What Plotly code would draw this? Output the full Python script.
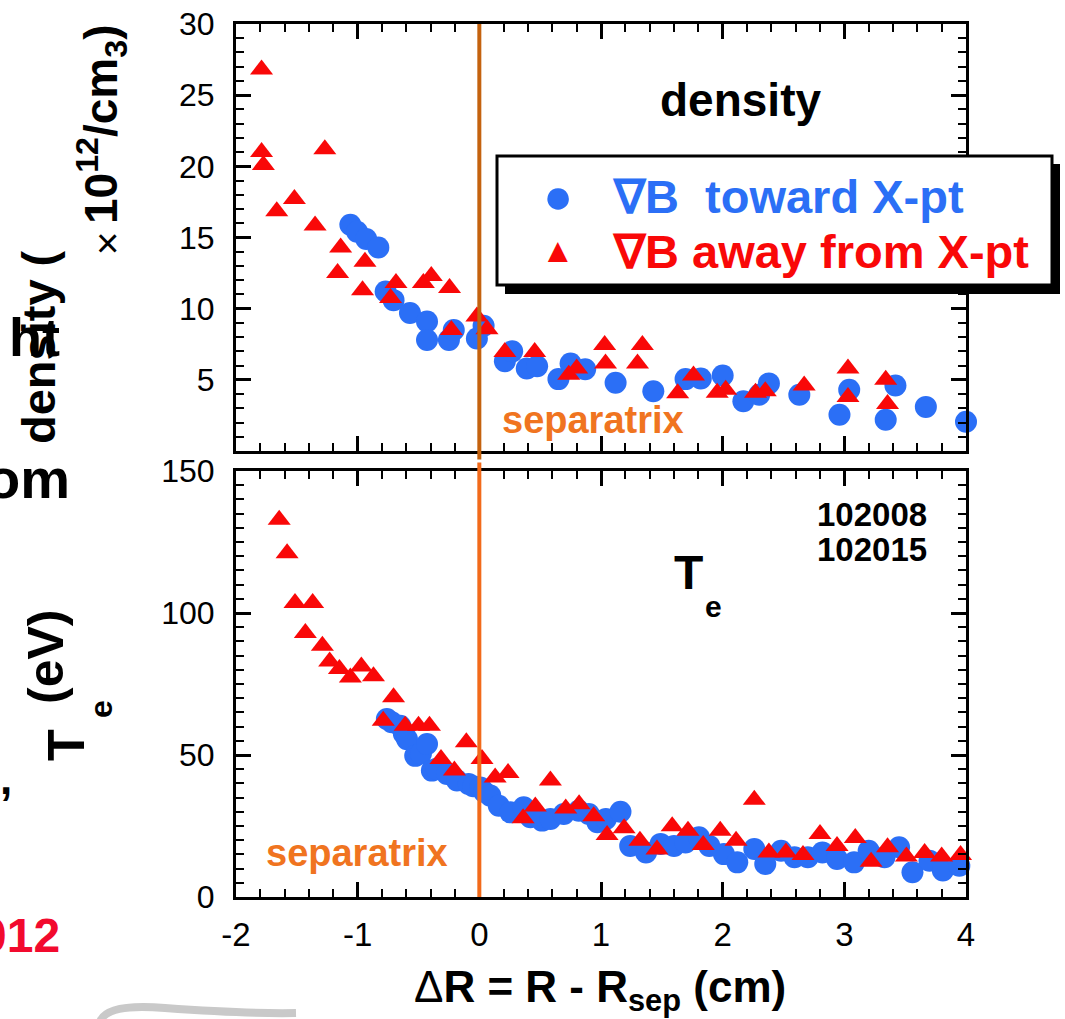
import plotly.graph_objects as go

# ---------------- data ----------------
# Upstream density (1e12 / cm^3) vs. distance from separatrix (cm)
dens_toward_x = [-1.06, -1.005, -0.93, -0.83, -0.77, -0.705, -0.57, -0.43, -0.43, -0.25,
                 -0.21, -0.02, 0.035, 0.21, 0.27, 0.39, 0.475, 0.65, 0.75, 0.87,
                 1.12, 1.43, 1.695, 1.82, 2.0, 2.17, 2.30, 2.38, 2.63, 2.96,
                 3.04, 3.34, 3.42, 3.67, 4.0]
dens_toward_y = [15.9, 15.4, 14.9, 14.3, 11.2, 10.6, 9.7, 9.1, 7.8, 7.8,
                 8.5, 7.9, 8.8, 6.3, 7.0, 5.8, 5.95, 5.05, 6.15, 5.75,
                 4.8, 4.2, 5.05, 5.1, 5.3, 3.5, 3.95, 4.75, 3.95, 2.55,
                 4.3, 2.2, 4.6, 3.1, 2.05]

dens_away_x = [-1.79, -1.79, -1.775, -1.665, -1.52, -1.35, -1.27, -1.165, -1.14, -0.96,
               -0.94, -0.73, -0.685, -0.46, -0.395, -0.245, -0.23, -0.02, 0.063, 0.21,
               0.455, 0.735, 0.80, 1.03, 1.037, 1.30, 1.34, 1.63, 1.76, 1.955,
               2.025, 2.27, 2.35, 2.67, 3.03, 3.03, 3.34, 3.355]
dens_away_y = [26.8, 21.0, 20.1, 16.85, 17.7, 15.85, 21.2, 12.5, 14.3, 11.3,
               13.3, 10.75, 11.8, 11.8, 12.3, 11.45, 8.5, 9.45, 8.55, 6.95,
               6.95, 5.35, 5.8, 7.45, 6.15, 6.15, 7.45, 4.05, 5.3, 4.1,
               4.3, 4.1, 4.2, 4.6, 5.8, 3.8, 5.0, 3.3]

# Electron temperature (eV)
te_toward_x = [-0.76, -0.72, -0.65, -0.62, -0.595, -0.527, -0.48, -0.43, -0.39, -0.35,
               -0.266, -0.184, -0.088, -0.05, 0.008, 0.04, 0.09, 0.16, 0.255, 0.365,
               0.42, 0.516, 0.584, 0.694, 0.817, 0.90, 0.97, 1.04, 1.16, 1.24,
               1.37, 1.49, 1.60, 1.695, 1.805, 1.89, 2.01, 2.12, 2.26, 2.35,
               2.48, 2.59, 2.70, 2.82, 2.94, 3.08, 3.20, 3.33, 3.45, 3.56,
               3.70, 3.81, 3.945]
te_toward_y = [62.7, 61.5, 60.3, 57.5, 55.6, 49.7, 50.5, 53.9, 44.5, 45.2,
               43.3, 41.0, 39.8, 39.0, 38.6, 37.0, 35.7, 32.1, 29.8, 31.6,
               28.1, 26.9, 27.5, 29.2, 30.4, 29.2, 26.3, 27.5, 30.0, 18.0,
               15.7, 18.7, 18.0, 19.2, 21.0, 18.0, 15.1, 12.2, 16.9, 11.6,
               16.3, 14.0, 14.0, 15.7, 13.4, 12.2, 16.3, 14.0, 17.5, 8.7,
               12.8, 9.3, 11.0]

te_away_x = [-1.645, -1.58, -1.515, -1.43, -1.37, -1.29, -1.23, -1.15, -1.06, -0.97,
             -0.87, -0.79, -0.705, -0.61, -0.50, -0.41, -0.315, -0.205, -0.107, 0.022,
             0.13, 0.236, 0.36, 0.46, 0.584, 0.71, 0.82, 0.94, 1.05, 1.19,
             1.32, 1.46, 1.585, 1.715, 1.84, 1.98, 2.11, 2.26, 2.38, 2.52,
             2.66, 2.80, 2.94, 3.09, 3.22, 3.355, 3.51, 3.66, 3.80, 3.955]
te_away_y = [132.8, 121.0, 103.5, 93.0, 103.5, 88.5, 82.9, 80.3, 77.3, 81.2,
             77.7, 62.1, 70.3, 60.3, 60.3, 60.3, 48.6, 44.5, 54.5, 48.6,
             42.1, 43.7, 27.7, 31.9, 41.0, 31.2, 32.7, 28.4, 21.8, 24.2,
             19.8, 16.7, 24.9, 23.3, 18.3, 23.3, 19.8, 34.2, 15.7, 15.7,
             14.8, 22.2, 18.0, 20.8, 12.4, 17.5, 14.3, 15.5, 14.3, 14.8]

separatrix_x = 0.0
x_ticks = [-2, -1, 0, 1, 2, 3, 4]
x_ticktext = ["-2", "-1", "0", "1", "2", "3", "4"]
dens_ticks = [0, 5, 10, 15, 20, 25, 30]
dens_ticktext = ["", "5", "10", "15", "20", "25", "30"]
te_ticks = [0, 50, 100, 150]
te_ticktext = ["0", "50", "100", "150"]

# ---------------- style ----------------
W, H = 1065, 1019
FONT = "Liberation Sans, Arial, Helvetica, sans-serif"
BLUE = "#2b6ff6"
RED = "#f90808"
ORANGE = "#f07420"
SEP_TOP = "#c4620e"
SEP_BOT = "#f26a1a"


def px(x):
    return x / W


def py(y):
    return 1 - y / H


fig = go.Figure()

for xs, ys, xa, ya in [(dens_toward_x, dens_toward_y, "x", "y"),
                       (te_toward_x, te_toward_y, "x2", "y2")]:
    fig.add_trace(go.Scatter(x=xs, y=ys, mode="markers", xaxis=xa, yaxis=ya,
                             marker=dict(symbol="circle", size=22, color=BLUE),
                             cliponaxis=False, showlegend=False))
for xs, ys, xa, ya in [(dens_away_x, dens_away_y, "x", "y"),
                       (te_away_x, te_away_y, "x2", "y2")]:
    fig.add_trace(go.Scatter(x=xs, y=ys, mode="markers", xaxis=xa, yaxis=ya,
                             marker=dict(symbol="triangle-up", size=20, color=RED),
                             cliponaxis=False, showlegend=False))

x_dom = [px(236), px(966)]
axis_common = dict(
    ticks="inside", ticklen=15, tickwidth=2.5, tickcolor="black",
    showline=True, linewidth=3, linecolor="black", mirror="allticks",
    showgrid=False, zeroline=False, automargin=False,
)


def minor(step):
    return dict(tickmode="linear", tick0=0, dtick=step, ticks="inside",
                ticklen=8, tickwidth=2, tickcolor="black")


fig.update_layout(
    width=W, height=H,
    margin=dict(l=0, r=0, t=0, b=0),
    paper_bgcolor="white", plot_bgcolor="white",
    font=dict(family=FONT, color="black"),
    xaxis=dict(domain=x_dom, anchor="y", range=[-2, 4],
               tickmode="array", tickvals=x_ticks, showticklabels=False,
               minor=minor(0.2), **axis_common),
    yaxis=dict(domain=[py(451), py(24)], anchor="x", range=[0, 30],
               tickmode="array", tickvals=dens_ticks, ticktext=dens_ticktext,
               ticklabelstandoff=12, tickfont=dict(family=FONT, size=32, color="black"),
               minor=minor(1), **axis_common),
    xaxis2=dict(domain=x_dom, anchor="y2", range=[-2, 4],
                tickmode="array", tickvals=x_ticks, ticktext=x_ticktext,
                ticklabelstandoff=6, tickfont=dict(family=FONT, size=33, color="black"),
                minor=minor(0.2), **axis_common),
    yaxis2=dict(domain=[py(897), py(471)], anchor="x2", range=[0, 150],
                tickmode="array", tickvals=te_ticks, ticktext=te_ticktext,
                ticklabelstandoff=12, tickfont=dict(family=FONT, size=32, color="black"),
                minor=minor(5), **axis_common),
)

# separatrix lines (drawn over the frame ticks)
fig.add_shape(type="line", xref="x", yref="y domain", x0=separatrix_x, x1=separatrix_x,
              y0=-0.02, y1=1, line=dict(color=SEP_TOP, width=4), layer="above")
fig.add_shape(type="line", xref="x2", yref="y2 domain", x0=separatrix_x, x1=separatrix_x,
              y0=0, y1=1.02, line=dict(color=SEP_BOT, width=4), layer="above")

# legend box with drop shadow
fig.add_shape(type="rect", xref="paper", yref="paper",
              x0=px(505), x1=px(1060), y0=py(294), y1=py(164),
              fillcolor="black", line=dict(width=0), layer="above")
fig.add_shape(type="rect", xref="paper", yref="paper",
              x0=px(497), x1=px(1052), y0=py(285), y1=py(156),
              fillcolor="white", line=dict(color="black", width=3), layer="above")

# stray pen stroke at lower left
fig.add_shape(type="path", xref="paper", yref="paper",
              path=(f"M {px(100)} {py(1022)} Q {px(106)} {py(1003)} {px(165)} {py(1008)} "
                    f"Q {px(250)} {py(1014)} {px(296)} {py(1013)}"),
              line=dict(color="#c9c9c9", width=8), layer="above")


def note(text, x, y, size, color="black", xanchor="center", yanchor="middle",
         angle=0, bold=True):
    fig.add_annotation(text=f"<b>{text}</b>" if bold else text,
                       x=px(x), y=py(y), xref="paper", yref="paper",
                       xanchor=xanchor, yanchor=yanchor, textangle=angle,
                       showarrow=False,
                       font=dict(family=FONT, size=size, color=color))


# panel labels
note("density", 740, 100, 46)
note("separatrix", 593, 420, 38, ORANGE)
note("separatrix", 357, 853, 38, ORANGE)
note("102008", 929, 514, 33, xanchor="right")
note("102015", 929, 549, 33, xanchor="right")
note("T", 688, 572, 48)
note("e", 713, 606, 30)

# legend entries
note("\u25cf", 558, 196, 50, BLUE, bold=False)
note("\u25b2", 558, 250, 34, RED, bold=False)
note("\u2207B\u00a0 toward X-pt", 610, 197, 47, BLUE, xanchor="left")
note("\u2207B away from X-pt", 610, 251, 47, RED, xanchor="left")

# axis titles
fig.add_annotation(text="\u0394<b>R = R - R<sub>sep</sub> (cm)</b>",
                   x=px(600), y=py(1020), xref="paper", yref="paper",
                   xanchor="center", yanchor="bottom",
                   showarrow=False, font=dict(family=FONT, size=44, color="black"))
note("density (", 38, 347, 47, angle=-90)
note("\u00d7", 107, 243, 40, bold=False)
note("10<sup>12</sup>/cm<sub>3</sub>)", 101, 125, 46, angle=-90)
note("(eV)", 46, 657, 50, angle=-90)
note("T", 66, 745, 52, angle=-90)
note("e", 101, 709, 32, angle=-90)

# text fragments at the left edge
note("ht", 62, 337, 54, xanchor="right")
note("om", 72, 478, 56, xanchor="right")
note(",", 14, 778, 44, xanchor="right")
note("012", 62, 935, 48, "#f20a2e", xanchor="right")

fig.write_html("out.html")
